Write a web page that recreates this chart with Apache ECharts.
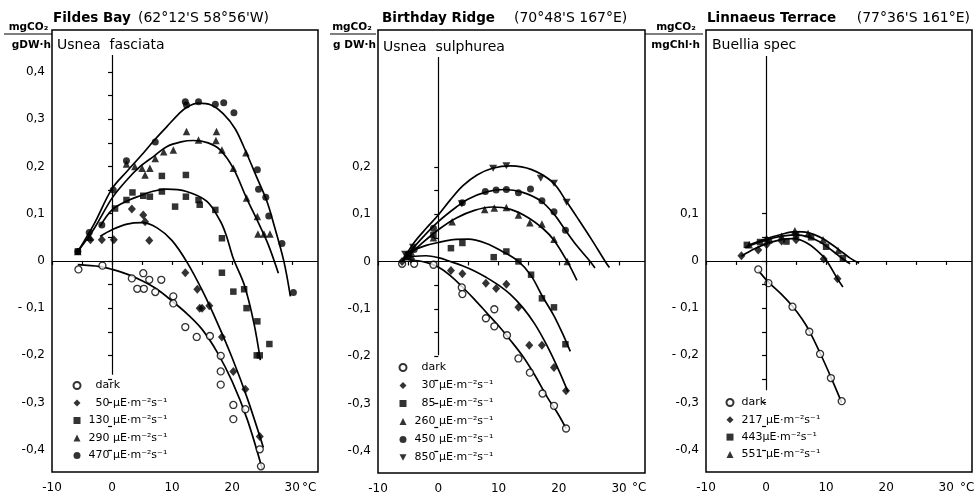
<!DOCTYPE html>
<html><head><meta charset="utf-8">
<script src="https://cdn.jsdelivr.net/npm/echarts@6/dist/echarts.min.js"></script>
<style>html,body{margin:0;padding:0;background:#fff}#c{width:975px;height:501px}</style>
</head><body><div id="c"></div>
<script>
// ---------- tick values / labels ----------
const xTicks = [-10,-5,0,5,10,15,20,25,30];
const xLabels = [-10,0,10,20,30];
const yTicks1 = [-0.4,-0.35,-0.3,-0.25,-0.2,-0.15,-0.1,-0.05,0,0.05,0.1,0.15,0.2,0.25,0.3,0.35,0.4];
const yTicks2 = [-0.4,-0.35,-0.3,-0.25,-0.2,-0.15,-0.1,-0.05,0,0.05,0.1,0.15,0.2];
const yTicks3 = [-0.4,-0.35,-0.3,-0.25,-0.2,-0.15,-0.1,-0.05,0,0.05,0.1];
const yLabVals1 = [0.4,0.3,0.2,0.1,0,-0.1,-0.2,-0.3,-0.4];
const yLabTxt1  = ['0,4','0,3','0,2','0,1','0','- 0,1','-0,2','-0,3','-0,4'];
const yLabVals2 = [0.2,0.1,0,-0.1,-0.2,-0.3,-0.4];
const yLabTxt2  = ['0,2','0,1','0','-0,1','-0,2','-0,3','-0,4'];
const yLabVals3 = [0.1,0,-0.1,-0.2,-0.3,-0.4];
const yLabTxt3  = ['0,1','0','- 0,1','- 0,2','-0,3','-0,4'];

// ---------- legend names ----------
const F_names = ['dark','50 μE·m⁻²s⁻¹','130 μE·m⁻²s⁻¹','290 μE·m⁻²s⁻¹','470 μE·m⁻²s⁻¹'];
const B_names = ['dark','30 μE·m⁻²s⁻¹','85 μE·m⁻²s⁻¹','260 μE·m⁻²s⁻¹','450 μE·m⁻²s⁻¹','850 μE·m⁻²s⁻¹'];
const L_names = ['dark','217 μE·m⁻²s⁻¹','443μE·m⁻²s⁻¹','551 μE·m⁻²s⁻¹'];

// ---------- Panel 1: Fildes Bay, Usnea fasciata ----------
const F_dark_pts = [[-5.6,-0.018],[-1.6,-0.01],[3.3,-0.037],[4.2,-0.059],[5.2,-0.026],[5.3,-0.059],[6.2,-0.04],[7.2,-0.066],[8.2,-0.04],[10.2,-0.075],[10.2,-0.09],[12.2,-0.14],[14.1,-0.161],[16.3,-0.159],[18.1,-0.201],[18.1,-0.234],[18.1,-0.262],[20.2,-0.305],[20.2,-0.335],[22.2,-0.314],[24.6,-0.399],[24.8,-0.435]];
const F_dark_fit = [[-5.7,-0.008],[-2,-0.012],[0,-0.018],[2.5,-0.028],[5,-0.042],[7.5,-0.06],[10,-0.085],[12.5,-0.112],[15,-0.145],[17.5,-0.193],[20,-0.255],[22.5,-0.335],[25,-0.44]];
const F_50_pts = [[-3.6,0.045],[-1.7,0.045],[0.3,0.045],[3.3,0.11],[5.2,0.097],[5.5,0.083],[6.2,0.043],[12.2,-0.025],[14.2,-0.06],[14.6,-0.1],[15,-0.1],[16.2,-0.095],[18.3,-0.161],[20.2,-0.234],[22.2,-0.272],[24.6,-0.372]];
const F_50_fit = [[-2,0.052],[0,0.066],[2.5,0.078],[5,0.081],[7.5,0.07],[10,0.043],[12.5,-0.003],[15,-0.062],[17.5,-0.13],[20,-0.205],[22.5,-0.29],[25.2,-0.395]];
const F_130_pts = [[-5.7,0.02],[0.5,0.111],[2.4,0.129],[3.4,0.145],[5.2,0.138],[6.3,0.136],[8.3,0.147],[8.3,0.18],[10.5,0.115],[12.3,0.182],[12.3,0.136],[14.4,0.129],[14.6,0.119],[17.2,0.108],[18.3,0.048],[18.3,-0.025],[20.2,-0.065],[22,-0.06],[22.4,-0.1],[24.2,-0.128],[24.1,-0.2],[24.6,-0.2],[26.2,-0.176]];
const F_130_fit = [[-2,0.073],[0,0.108],[2.5,0.127],[4.7,0.138],[7,0.148],[9.1,0.152],[12.4,0.147],[15.8,0.126],[18,0.085],[19,0.055],[20.2,0.005],[22,-0.05],[23.6,-0.13],[24.7,-0.21]];
const F_290_pts = [[-5.7,0.02],[-3.7,0.05],[2.4,0.205],[3.8,0.2],[5,0.196],[5.5,0.182],[6.3,0.196],[7.2,0.217],[8.6,0.231],[10.2,0.235],[12.4,0.274],[14.4,0.256],[17.4,0.274],[17.3,0.255],[18.3,0.235],[20.2,0.196],[22.3,0.229],[22.4,0.133],[24.2,0.094],[24.3,0.057],[25.3,0.057],[26.3,0.057]];
const F_290_fit = [[-5.7,0.02],[-3,0.068],[0,0.133],[2.5,0.172],[4.7,0.2],[7,0.222],[9.1,0.242],[11.5,0.252],[13.5,0.255],[16,0.25],[18,0.235],[20.2,0.196],[22.4,0.133],[24.4,0.08],[26,0.035],[27.7,-0.026]];
const F_470_pts = [[-5.7,0.02],[-3.8,0.06],[-1.7,0.076],[0.2,0.15],[2.4,0.212],[7.2,0.252],[12.2,0.337],[12.4,0.33],[14.4,0.337],[17.2,0.332],[18.6,0.335],[20.3,0.314],[24.2,0.193],[24.4,0.152],[25.6,0.135],[26.1,0.095],[28.3,0.037],[30.2,-0.067]];
const F_470_fit = [[-5.7,0.02],[-3,0.078],[0,0.153],[2.5,0.19],[4.7,0.221],[7,0.255],[9.1,0.284],[11,0.31],[12.4,0.325],[14.4,0.334],[16.5,0.33],[18.5,0.312],[20.5,0.28],[22.4,0.228],[24,0.18],[25.8,0.126],[27,0.075],[28.6,0],[29.7,-0.075]];

// ---------- Panel 2: Birthday Ridge, Usnea sulphurea ----------
const B_dark_pts = [[-6,-0.005],[-4,-0.005],[-0.8,-0.007],[3.9,-0.055],[4,-0.069],[7.9,-0.12],[9.3,-0.101],[9.3,-0.137],[11.4,-0.156],[13.3,-0.205],[15.2,-0.235],[17.3,-0.279],[19.2,-0.305],[21.2,-0.353]];
const B_dark_fit = [[-4.6,0.003],[-2,-0.002],[0,-0.012],[2,-0.03],[4,-0.054],[6,-0.08],[8,-0.108],[10,-0.136],[12,-0.167],[14,-0.2],[16,-0.24],[18,-0.285],[20,-0.325],[21.2,-0.353]];
const B_30_pts = [[-6,0],[-4.5,0.005],[2.1,-0.019],[4,-0.026],[7.9,-0.046],[9.6,-0.057],[11.3,-0.048],[13.3,-0.097],[15.1,-0.177],[17.2,-0.177],[19.2,-0.224],[21.2,-0.273]];
const B_30_fit = [[-4.6,0.01],[-2,0.012],[0,0.008],[2,0],[4,-0.009],[6,-0.02],[8,-0.034],[10,-0.05],[12,-0.07],[14,-0.097],[16,-0.132],[18,-0.177],[20,-0.23],[21.5,-0.275]];
const B_85_pts = [[-5,0.01],[-0.8,0.056],[2.1,0.028],[4,0.039],[9.2,0.009],[11.3,0.021],[13.3,0],[15.4,-0.028],[17.2,-0.078],[19.2,-0.097],[21.1,-0.175]];
const B_85_fit = [[-5,0.02],[-2,0.034],[0,0.04],[2.5,0.046],[5,0.047],[8,0.038],[10.5,0.022],[13.3,0],[15.4,-0.03],[17.2,-0.072],[19.2,-0.115],[21,-0.163],[21.9,-0.19]];
const B_260_pts = [[-5.5,0.01],[-4.5,0.02],[-0.8,0.05],[2.3,0.084],[7.7,0.11],[9.3,0.113],[11.3,0.114],[13.3,0.098],[15.2,0.082],[17.2,0.079],[19.2,0.047],[21.4,0]];
const B_260_fit = [[-6,0],[-3,0.035],[0,0.067],[3,0.092],[6,0.108],[9,0.115],[12,0.11],[15,0.092],[17.5,0.068],[19.2,0.045],[21.4,0],[23,-0.04]];
const B_450_pts = [[-5,0.015],[-4,0.025],[-0.8,0.07],[4,0.124],[7.8,0.148],[9.6,0.151],[11.3,0.152],[13.3,0.145],[15.3,0.153],[17.2,0.128],[19.2,0.105],[21.1,0.066]];
const B_450_fit = [[-6,0],[-3,0.045],[0,0.084],[3,0.115],[5,0.132],[8,0.147],[11,0.152],[14,0.146],[17,0.128],[19.2,0.1],[21.1,0.066],[23,0.033],[25.2,0],[26,-0.014]];
const B_850_pts = [[-5.5,0.015],[-4.2,0.03],[3.9,0.122],[9.1,0.197],[11.3,0.202],[17,0.176],[19.2,0.165],[21.3,0.125]];
const B_850_fit = [[-6,0],[-4,0.04],[-2,0.07],[0,0.098],[2,0.13],[4.1,0.16],[6.5,0.183],[9,0.197],[12,0.202],[15.5,0.194],[19,0.167],[21.3,0.126],[23.3,0.088],[25.5,0.045],[27.7,0],[28.4,-0.013]];

// ---------- Panel 3: Linnaeus Terrace, Buellia spec ----------
const L_dark_pts = [[-1.3,-0.018],[0.4,-0.047],[4.4,-0.097],[7.2,-0.15],[9,-0.197],[10.8,-0.248],[12.6,-0.297]];
const L_dark_fit = [[-1.3,-0.02],[0.4,-0.045],[2.5,-0.07],[4.4,-0.096],[6,-0.123],[7.2,-0.148],[9,-0.195],[10.8,-0.246],[12.6,-0.3]];
const L_217_pts = [[-4.1,0.011],[-1.3,0.023],[0.1,0.035],[2.6,0.042],[5,0.045],[9.6,0.004],[11.9,-0.038]];
const L_217_fit = [[-4.1,0.01],[-2,0.025],[0,0.036],[2.5,0.045],[4.5,0.047],[6.5,0.04],[8.5,0.022],[10,0.002],[11.9,-0.038],[12.8,-0.055]];
const L_443_pts = [[-3.2,0.034],[-1,0.04],[0.5,0.043],[3.4,0.041],[5,0.055],[7.5,0.05],[10,0.03],[12.8,0.006]];
const L_443_fit = [[-3.5,0.028],[-1,0.04],[1,0.048],[3,0.053],[5,0.055],[7,0.051],[9,0.04],[11,0.022],[12.8,0.004],[14,-0.006]];
const L_551_pts = [[-2.8,0.034],[0.1,0.048],[2.6,0.052],[4.8,0.064],[7,0.058],[9.5,0.045],[12,0.022]];
const L_551_fit = [[-3,0.033],[0,0.047],[2.5,0.056],[4.8,0.062],[7,0.06],[9.5,0.047],[12,0.025],[14,0.006],[15.5,-0.005]];

// ---------- build ----------
const FONT = '"DejaVu Sans", "Liberation Sans", sans-serif';
const ITRI = 'path://M0,0L10,0L5,9Z';
const SYM = {
  open:  {symbol:'circle', size:7, style:{color:'#fff', borderColor:'#000', borderWidth:1.3}},
  diam:  {symbol:'diamond', size:[8,9], style:{color:'#000'}},
  sq:    {symbol:'rect', size:6.5, style:{color:'#000'}},
  tri:   {symbol:'triangle', size:7.5, style:{color:'#000'}},
  dot:   {symbol:'circle', size:7, style:{color:'#000'}},
  itri:  {symbol:ITRI, size:[8,7], style:{color:'#000'}}
};
function pts(name, gi, data, s){
  return {type:'scatter', name, xAxisIndex:gi, yAxisIndex:gi, data, symbol:s.symbol,
    symbolSize:s.size, itemStyle:s.style, z:4, silent:true};
}
function fit(gi, data, extra){
  return Object.assign({type:'line', name:'fit'+gi, xAxisIndex:gi, yAxisIndex:gi, data, smooth:0.35,
    symbol:'none', showSymbol:false, lineStyle:{color:'#000', width:1.7}, silent:true, z:3}, extra||{});
}
function zeroLines(top, bottom){
  return {markLine:{silent:true, symbol:'none', label:{show:false}, animation:false,
    lineStyle:{color:'#000', width:1.2, type:'solid'},
    data:[{yAxis:0}, [{coord:[0,top]},{coord:[0,bottom]}]]}};
}
const grids = [
  {left:52, top:30, width:266, height:442},
  {left:378, top:30, width:267, height:443},
  {left:706, top:30, width:266, height:442}
].map(g => Object.assign(g, {show:true, borderColor:'#000', borderWidth:1.5, backgroundColor:'#fff', containLabel:false}));

function xAxis(gi){
  return {type:'value', gridIndex:gi, min:-10, max:34.3, splitLine:{show:false},
    axisLine:{show:false},
    axisTick:{show:true, customValues:xTicks, length:4, lineStyle:{color:'#000', width:1.2}},
    axisLabel:{customValues:xLabels, margin:10, color:'#000', fontSize:12, fontFamily:FONT,
      formatter:v => String(v)}};
}
function yAxis(gi, ticks, vals, txt){
  return {type:'value', gridIndex:gi, min:-0.447, max:0.489, splitLine:{show:false},
    axisLine:{show:false},
    axisTick:{show:true, customValues:ticks, length:4, lineStyle:{color:'#000', width:1.2}},
    axisLabel:{customValues:vals, margin:7, color:'#000', fontSize:12, fontFamily:FONT,
      formatter:v => { const i = vals.findIndex(a => Math.abs(a - v) < 1e-9); return i < 0 ? '' : txt[i]; }}};
}
const legendBase = {orient:'vertical', padding:0, itemWidth:7, itemHeight:7, itemGap:4.5,
  selectedMode:false, textStyle:{fontSize:11, fontFamily:FONT, color:'#000', lineHeight:13, padding:[0,0,0,3]}};
const pad1 = ['dark','50 μE·m⁻²s⁻¹'], pad2 = ['dark','30 μE·m⁻²s⁻¹','85 μE·m⁻²s⁻¹'];

const series = [
  Object.assign(fit(0, F_dark_fit), zeroLines(0.436, -0.241)),
  fit(0, F_50_fit), fit(0, F_130_fit), fit(0, F_290_fit), fit(0, F_470_fit),
  pts(F_names[0], 0, F_dark_pts, SYM.open), pts(F_names[1], 0, F_50_pts, SYM.diam),
  pts(F_names[2], 0, F_130_pts, SYM.sq), pts(F_names[3], 0, F_290_pts, SYM.tri),
  pts(F_names[4], 0, F_470_pts, SYM.dot),

  Object.assign(fit(1, B_dark_fit), zeroLines(0.432, -0.198)),
  fit(1, B_30_fit), fit(1, B_85_fit), fit(1, B_260_fit), fit(1, B_450_fit), fit(1, B_850_fit),
  pts(B_names[0], 1, B_dark_pts, SYM.open), pts(B_names[1], 1, B_30_pts, SYM.diam),
  pts(B_names[2], 1, B_85_pts, SYM.sq), pts(B_names[3], 1, B_260_pts, SYM.tri),
  pts(B_names[4], 1, B_450_pts, SYM.dot), pts(B_names[5], 1, B_850_pts, SYM.itri),

  Object.assign(fit(2, L_dark_fit), zeroLines(0.434, -0.274)),
  fit(2, L_217_fit), fit(2, L_443_fit), fit(2, L_551_fit),
  pts(L_names[0], 2, L_dark_pts, SYM.open), pts(L_names[1], 2, L_217_pts, SYM.diam),
  pts(L_names[2], 2, L_443_pts, SYM.sq), pts(L_names[3], 2, L_551_pts, SYM.tri)
];

function T(x, y, text, font, align){
  return {type:'text', x, y, silent:true, style:{text, font, fill:'#000', align:align||'left', verticalAlign:'middle'}};
}
function L(x1, x2, y){
  return {type:'line', silent:true, shape:{x1, y1:y, x2, y2:y}, style:{stroke:'#000', lineWidth:1.2}};
}
const tB = 'bold 13.5px ' + FONT, tN = '14px ' + FONT, sp = '14px ' + FONT, un = 'bold 10.5px ' + FONT, cF = '12px ' + FONT;
const graphic = [
  T(53, 18, 'Fildes Bay', tB), T(138, 18, "(62°12'S 58°56'W)", tN),
  T(28.5, 27, 'mgCO₂', un, 'center'), L(4, 52, 34), T(51, 45, 'gDW·h', un, 'right'),
  T(57, 45, 'Usnea  fasciata', sp),
  T(302, 488, '°C', cF),

  T(382, 18, 'Birthday Ridge', tB), T(514, 18, "(70°48'S 167°E)", tN),
  T(352, 27, 'mgCO₂', un, 'center'), L(330, 376, 34), T(376, 45, 'g DW·h', un, 'right'),
  T(383, 47, 'Usnea  sulphurea', sp),
  T(632, 488, '°C', cF),

  T(707, 18, 'Linnaeus Terrace', tB), T(970, 18, "(77°36'S 161°E)", tN, 'right'),
  T(676, 27, 'mgCO₂', un, 'center'), L(645, 703, 34), T(700, 45, 'mgChl·h', un, 'right'),
  T(712, 45, 'Buellia spec', sp),
  T(960, 488, '°C', cF)
];

const chart = echarts.init(document.getElementById('c'), null, {renderer:'canvas'});
chart.setOption({
  animation:false,
  backgroundColor:'#fff',
  grid: grids,
  xAxis: [xAxis(0), xAxis(1), xAxis(2)],
  yAxis: [yAxis(0, yTicks1, yLabVals1, yLabTxt1), yAxis(1, yTicks2, yLabVals2, yLabTxt2), yAxis(2, yTicks3, yLabVals3, yLabTxt3)],
  legend: [
    Object.assign({}, legendBase, {data:F_names, left:72.5, top:379, formatter:n => (pad1.includes(n) ? '\u2007' : '') + n}),
    Object.assign({}, legendBase, {data:B_names.map((n, i) => i === 5 ? {name:n, icon:ITRI} : n), left:398.5, top:361, itemGap:5, formatter:n => (pad2.includes(n) ? '\u2007' : '') + n}),
    Object.assign({}, legendBase, {data:L_names, left:725.5, top:396, itemGap:4.3})
  ],
  series,
  graphic
});
</script></body></html>
